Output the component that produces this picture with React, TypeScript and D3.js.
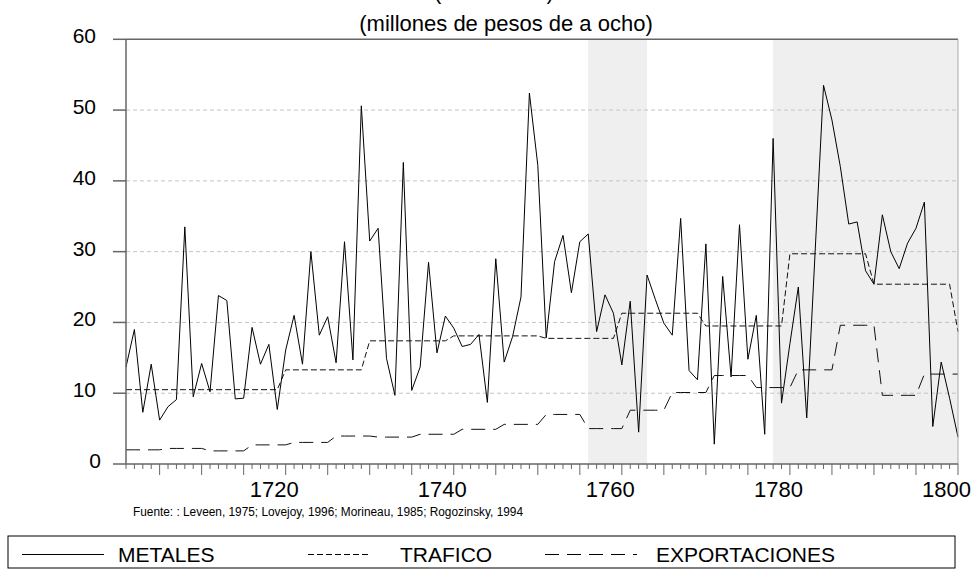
import * as d3 from "d3";

const FONT = "'Liberation Sans', Arial, Helvetica, sans-serif";

// years 1701..1800
const years = d3.range(1701, 1801);

const metales = [
  13.7, 19.0, 7.3, 14.1, 6.2, 8.1, 9.1, 33.5, 9.5, 14.2,
  10.2, 23.8, 23.1, 9.2, 9.3, 19.3, 14.1, 16.9, 7.7, 16.1,
  21.0, 14.1, 30.0, 18.2, 20.8, 14.3, 31.4, 14.7, 50.6, 31.5,
  33.3, 14.9, 9.7, 42.6, 10.4, 13.7, 28.5, 15.7, 20.9, 19.2,
  16.6, 16.9, 18.3, 8.7, 29.0, 14.4, 18.0, 23.6, 52.4, 42.2,
  17.8, 28.6, 32.3, 24.2, 31.4, 32.5, 18.7, 23.9, 21.3, 14.0,
  23.0, 4.5, 26.7, 23.2, 19.9, 18.2, 34.7, 13.2, 11.9, 31.1,
  2.8, 26.5, 12.3, 33.8, 14.8, 21.0, 4.2, 46.0, 8.6, 17.0,
  25.0, 6.5, 30.0, 53.5, 48.6, 42.0, 33.9, 34.2, 27.3, 25.4,
  35.2, 30.0, 27.6, 31.2, 33.3, 37.0, 5.3, 14.4, 9.3, 3.8,
];

const trafico = [
  10.5, 10.5, 10.5, 10.5, 10.5, 10.5, 10.5, 10.5, 10.5, 10.5,
  10.5, 10.5, 10.5, 10.5, 10.5, 10.5, 10.5, 10.5, 10.5, 13.3,
  13.3, 13.3, 13.3, 13.3, 13.3, 13.3, 13.3, 13.3, 13.3, 17.4,
  17.4, 17.4, 17.4, 17.4, 17.4, 17.4, 17.4, 17.4, 17.4, 18.1,
  18.1, 18.1, 18.1, 18.1, 18.1, 18.1, 18.1, 18.1, 18.1, 18.1,
  17.75, 17.75, 17.75, 17.75, 17.75, 17.75, 17.75, 17.75, 17.75, 21.3,
  21.3, 21.3, 21.3, 21.3, 21.3, 21.3, 21.3, 21.3, 21.3, 19.5,
  19.5, 19.5, 19.5, 19.5, 19.5, 19.5, 19.5, 19.5, 19.5, 29.7,
  29.7, 29.7, 29.7, 29.7, 29.7, 29.7, 29.7, 29.7, 29.7, 25.4,
  25.4, 25.4, 25.4, 25.4, 25.4, 25.4, 25.4, 25.4, 25.4, 18.7,
];

const exportaciones = [
  2.0, 2.0, 2.0, 2.0, 2.0, 2.2, 2.2, 2.2, 2.2, 2.2,
  1.85, 1.85, 1.85, 1.85, 1.85, 2.7, 2.7, 2.7, 2.7, 2.7,
  3.05, 3.05, 3.05, 3.05, 3.05, 3.95, 3.95, 3.95, 3.95, 3.95,
  3.8, 3.8, 3.8, 3.8, 3.8, 4.2, 4.2, 4.2, 4.2, 4.2,
  4.9, 4.9, 4.9, 4.9, 4.9, 5.6, 5.6, 5.6, 5.6, 5.6,
  7.0, 7.0, 7.0, 7.0, 7.0, 5.0, 5.0, 5.0, 5.0, 5.0,
  7.6, 7.6, 7.6, 7.6, 7.6, 10.1, 10.1, 10.1, 10.1, 10.1,
  12.5, 12.5, 12.5, 12.5, 12.5, 10.8, 10.8, 10.8, 10.8, 10.8,
  13.3, 13.3, 13.3, 13.3, 13.3, 19.6, 19.6, 19.6, 19.6, 19.6,
  9.7, 9.7, 9.7, 9.7, 9.7, 12.7, 12.7, 12.7, 12.7, 12.7,
];

// shaded periods
const bands = [
  [1756, 1763],
  [1778, 1800],
];

const yTicks = [0, 10, 20, 30, 40, 50, 60];
const xLabels = [1720, 1740, 1760, 1780, 1800];

const fuente =
  "Fuente: : Leveen, 1975;  Lovejoy, 1996; Morineau, 1985; Rogozinsky, 1994";

const W = 974;
const H = 570;
const PLOT = { left: 126, right: 958, top: 39.3, bottom: 464 };

const DASH_TRAFICO = "6,3";
const DASH_EXPORT = "14,8";

export default function App() {
  const x = d3.scaleLinear().domain([1701, 1800]).range([PLOT.left, PLOT.right]);
  const y = d3.scaleLinear().domain([0, 60]).range([PLOT.bottom, PLOT.top]);

  const line = (vals: number[]) =>
    d3
      .line<number>()
      .x((_, i) => x(years[i]))
      .y((d) => y(d))(vals) as string;

  const axisColor = "#666";

  return (
    <svg
      width={W}
      height={H}
      style={{ position: "absolute", left: 0, top: 0, background: "#fff" }}
      fontFamily={FONT}
    >
      {/* title line, cut off at the top like in the original */}
      <text x={494} y={-1.5} textAnchor="middle" fontSize={22}>
        (1701-1800)
      </text>
      <text x={506} y={31} textAnchor="middle" fontSize={22}>
        (millones de pesos de a ocho)
      </text>

      {bands.map(([a, b], i) => (
        <rect
          key={i}
          x={x(a)}
          y={PLOT.top}
          width={x(b) - x(a)}
          height={PLOT.bottom - PLOT.top}
          fill="#efefef"
        />
      ))}

      {yTicks
        .filter((t) => t > 0 && t < 60)
        .map((t) => (
          <line
            key={t}
            x1={PLOT.left}
            x2={PLOT.right}
            y1={y(t)}
            y2={y(t)}
            stroke="#c4c4c4"
            strokeDasharray="4,3"
          />
        ))}

      <path d={line(exportaciones)} fill="none" stroke="#111" strokeWidth={1} strokeDasharray={DASH_EXPORT} />
      <path d={line(trafico)} fill="none" stroke="#111" strokeWidth={1} strokeDasharray={DASH_TRAFICO} />
      <path d={line(metales)} fill="none" stroke="#000" strokeWidth={1} />

      {/* frame */}
      <line x1={PLOT.left} x2={PLOT.right} y1={PLOT.top} y2={PLOT.top} stroke={axisColor} strokeWidth={1.5} />
      <line x1={PLOT.right} x2={PLOT.right} y1={PLOT.top} y2={PLOT.bottom} stroke="#aaa" strokeWidth={1} />
      <line x1={PLOT.left} x2={PLOT.left} y1={PLOT.top} y2={PLOT.bottom} stroke={axisColor} strokeWidth={1.5} />
      <line x1={PLOT.left} x2={PLOT.right} y1={PLOT.bottom} y2={PLOT.bottom} stroke={axisColor} strokeWidth={1.5} />

      {/* y axis */}
      {yTicks.map((t) => (
        <g key={t}>
          <line x1={113} x2={PLOT.left} y1={y(t)} y2={y(t)} stroke={axisColor} strokeWidth={1.5} />
          <text x={t === 0 ? 101 : 96} y={y(t) + 4} textAnchor="end" fontSize={21}>
            {t}
          </text>
        </g>
      ))}

      {/* x axis ticks, one per year, longer every 5 */}
      {years.map((yr) => {
        const major = yr % 5 === 0;
        return (
          <line
            key={yr}
            x1={x(yr)}
            x2={x(yr)}
            y1={PLOT.bottom}
            y2={PLOT.bottom + (major ? 11 : 5)}
            stroke={axisColor}
            strokeWidth={1}
          />
        );
      })}
      {xLabels.map((yr) => (
        <text key={yr} x={x(yr) - 11.5} y={497} textAnchor="middle" fontSize={22}>
          {yr}
        </text>
      ))}

      <text x={133} y={516} fontSize={12} textLength={390} lengthAdjust="spacingAndGlyphs">
        {fuente}
      </text>

      {/* legend */}
      <rect x={8} y={536} width={947} height={32} fill="none" stroke="#000" strokeWidth={1} />
      <line x1={22} x2={104} y1={554.5} y2={554.5} stroke="#000" />
      <text x={118} y={562} fontSize={21}>METALES</text>
      <line x1={308} x2={370} y1={554.5} y2={554.5} stroke="#000" strokeDasharray={DASH_TRAFICO} />
      <text x={400} y={562} fontSize={21}>TRAFICO</text>
      <line x1={545} x2={637} y1={554.5} y2={554.5} stroke="#000" strokeDasharray={DASH_EXPORT} />
      <text x={656} y={562} fontSize={21}>EXPORTACIONES</text>
    </svg>
  );
}
